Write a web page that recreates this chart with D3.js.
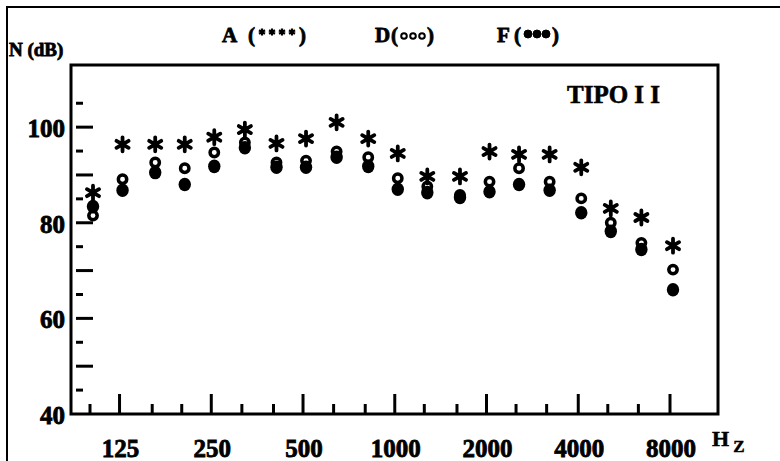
<!DOCTYPE html>
<html>
<head>
<meta charset="utf-8">
<script src="https://cdn.jsdelivr.net/npm/d3@7"></script>
<style>
  body { margin: 0; background: #fff; }
  text { font-family: "Liberation Serif", "Times New Roman", serif; font-weight: bold; fill: #000; }
</style>
</head>
<body>
<div id="chart"></div>
<script>
// third-octave bands (Hz) and levels (dB)
let freqs = [100, 125, 160, 200, 250, 315, 400, 500, 630, 800, 1000, 1250, 1600, 2000, 2500, 3150, 4000, 5000, 6300, 8000];
let seriesA = [86.3, 96.4, 96.4, 96.4, 97.9, 99.5, 96.6, 97.6, 101.0, 97.6, 94.5, 89.7, 89.7, 94.9, 94.3, 94.3, 91.6, 83.0, 81.1, 75.2];
let seriesD = [81.5, 89.1, 92.6, 91.4, 94.7, 96.8, 92.6, 93.0, 94.9, 93.7, 89.3, 87.6, 85.8, 88.6, 91.4, 88.6, 85.1, 80.0, 75.8, 70.2];
let seriesF = [83.4, 86.8, 90.5, 88.0, 91.8, 95.7, 91.6, 91.6, 93.7, 91.8, 87.0, 86.3, 85.3, 86.5, 88.0, 86.8, 82.1, 78.2, 74.4, 66.0];

let xLabels = [125, 250, 500, 1000, 2000, 4000, 8000];
let yLabels = [40, 60, 80, 100];
let yTicks = [45, 50, 55, 60, 65, 70, 75, 80, 85, 90, 95, 100, 105];

let svgWidth = 780;
let svgHeight = 461;
let plot = { left: 71, top: 65, right: 718, bottom: 414 };

let svg = d3.select("#chart")
            .append("svg")
            .attr("width", svgWidth)
            .attr("height", svgHeight);

// scales
let xScale = d3.scaleLog()
               .domain([100, 8000])
               .range([93, 673]);

let yScale = d3.scaleLinear()
               .domain([40, 113])
               .range([plot.bottom, plot.top]);

// outer frame + plot box
svg.append("rect")
   .attr("x", 7).attr("y", 7)
   .attr("width", 800).attr("height", 500)
   .attr("fill", "none").attr("stroke", "#000").attr("stroke-width", 2);

svg.append("rect")
   .attr("x", plot.left).attr("y", plot.top)
   .attr("width", plot.right - plot.left).attr("height", plot.bottom - plot.top)
   .attr("fill", "none").attr("stroke", "#000").attr("stroke-width", 3);

// x ticks: tall at octaves, short at the third-octaves
svg.append("g").selectAll("line")
   .data(freqs)
   .enter()
   .append("line")
   .attr("x1", d => xScale(d) - 3)
   .attr("x2", d => xScale(d) - 3)
   .attr("y1", plot.bottom)
   .attr("y2", d => xLabels.includes(d) ? plot.bottom - 20 : plot.bottom - 10)
   .attr("stroke", "#000")
   .attr("stroke-width", 3);

svg.append("g").selectAll("text")
   .data(xLabels)
   .enter()
   .append("text")
   .attr("x", d => xScale(d) - 2)
   .attr("y", 457)
   .attr("text-anchor", "middle")
   .attr("font-size", "25px")
   .attr("stroke", "#000").attr("stroke-width", 0.8)
   .text(d => d);

// y ticks: long on tens, short on fives
svg.append("g").selectAll("line")
   .data(yTicks)
   .enter()
   .append("line")
   .attr("x1", 76)
   .attr("x2", d => d % 10 === 0 ? 93 : 83)
   .attr("y1", d => yScale(d))
   .attr("y2", d => yScale(d))
   .attr("stroke", "#000")
   .attr("stroke-width", 3);

svg.append("g").selectAll("text")
   .data(yLabels)
   .enter()
   .append("text")
   .attr("x", 65)
   .attr("y", d => yScale(d) + 10)
   .attr("text-anchor", "end")
   .attr("font-size", "25px")
   .attr("stroke", "#000").attr("stroke-width", 0.8)
   .text(d => d);

// axis titles
svg.append("text")
   .attr("x", 9).attr("y", 56)
   .attr("font-size", "19px")
   .attr("stroke", "#000").attr("stroke-width", 0.8)
   .text("N (dB)");

let hz = svg.append("text")
            .attr("x", 712).attr("y", 446)
            .attr("font-size", "22px")
            .attr("stroke", "#000").attr("stroke-width", 0.5);
hz.append("tspan").text("H");
hz.append("tspan").attr("dx", 4).attr("dy", 6).attr("font-size", "17px").text("Z");

svg.append("text")
   .attr("x", 567).attr("y", 103)
   .attr("font-size", "25px")
   .attr("stroke", "#000").attr("stroke-width", 0.6)
   .text("TIPO I I");

// marker shapes
function asterisk(r) {
    let p = "";
    [90, 30, -30].forEach(function(a) {
        let dx = r * Math.cos(a * Math.PI / 180);
        let dy = r * Math.sin(a * Math.PI / 180);
        p += `M${-dx},${-dy}L${dx},${dy}`;
    });
    return p;
}

function drawOpen(g, cx, cy, r, w) {
    g.append("circle").attr("cx", cx).attr("cy", cy).attr("r", r)
     .attr("fill", "none").attr("stroke", "#000").attr("stroke-width", w);
}

// data points
let dGroup = svg.append("g").selectAll("circle")
                .data(seriesD)
                .enter()
                .append("circle")
                .attr("cx", (d, i) => xScale(freqs[i]))
                .attr("cy", d => yScale(d))
                .attr("r", 4.2)
                .attr("fill", "none")
                .attr("stroke", "#000")
                .attr("stroke-width", 3.5);

let fGroup = svg.append("g").selectAll("ellipse")
                .data(seriesF)
                .enter()
                .append("ellipse")
                .attr("cx", (d, i) => xScale(freqs[i]))
                .attr("cy", d => yScale(d))
                .attr("rx", 6.2)
                .attr("ry", 6.8)
                .attr("fill", "#000");

let aGroup = svg.append("g").selectAll("path")
                .data(seriesA)
                .enter()
                .append("path")
                .attr("transform", (d, i) => `translate(${xScale(freqs[i])},${yScale(d)})`)
                .attr("d", asterisk(7))
                .attr("stroke", "#000")
                .attr("stroke-width", 3.8)
                .attr("stroke-linecap", "round");

// legend
let legend = svg.append("g")
                .attr("stroke", "#000");
let legY = 42;

function legendText(x, s) {
    legend.append("text").attr("x", x).attr("y", legY)
          .attr("font-size", "21px").attr("stroke-width", 0.8).text(s);
}

legendText(222, "A");
legendText(248, "(");
[0, 1, 2, 3].forEach(function(k) {
    legend.append("path")
          .attr("transform", `translate(${262 + k * 10},32)`)
          .attr("d", asterisk(3.5))
          .attr("stroke-width", 2.2);
});
legendText(299, ")");

legendText(375, "D");
legendText(391, "(");
[0, 1, 2].forEach(function(k) {
    drawOpen(legend, 404 + k * 9, 36, 2.8, 2);
});
legendText(427, ")");

legendText(497, "F");
legendText(514, "(");
[0, 1, 2].forEach(function(k) {
    legend.append("circle").attr("cx", 528 + k * 9).attr("cy", 34).attr("r", 4).attr("fill", "#000");
});
legendText(552, ")");
</script>
</body>
</html>
